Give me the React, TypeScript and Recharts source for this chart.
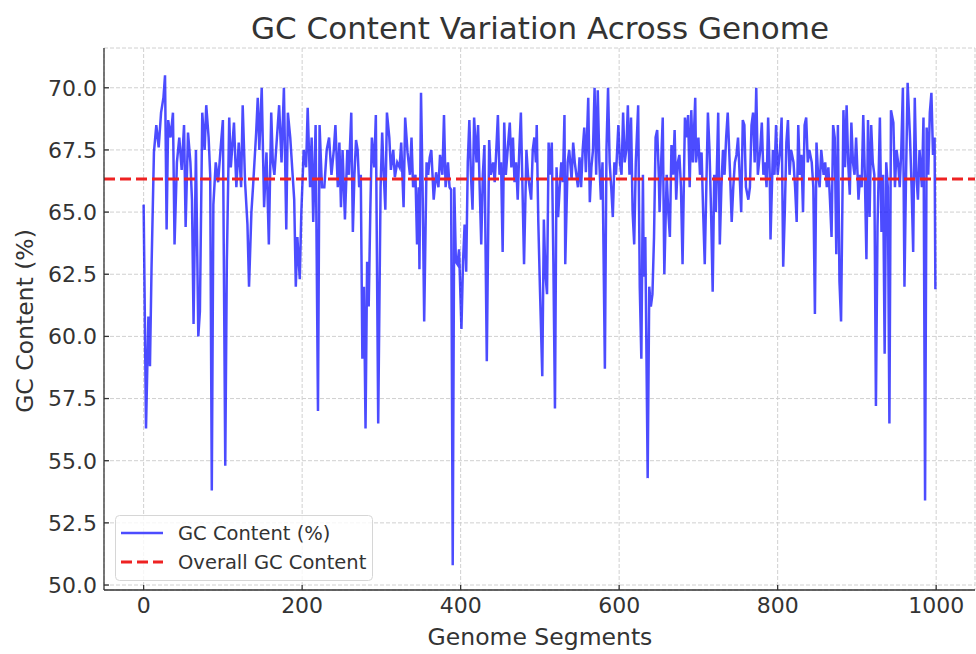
import {
  CartesianGrid,
  Label,
  Legend,
  Line,
  LineChart,
  ReferenceLine,
  XAxis,
  YAxis,
} from "recharts";

const FONT = "'DejaVu Sans', sans-serif";
const TEXT = "#333333";

const segments = [
  0, 1, 3, 6, 8, 10, 13, 16, 19, 22, 25, 27,
  29, 31, 34, 37, 39, 42, 45, 48, 51, 53, 56, 59,
  61, 63, 66, 69, 71, 74, 77, 79, 82, 84, 86, 88,
  91, 94, 97, 100, 103, 105, 108, 110, 114, 117, 120,
  123, 125, 128, 131, 133, 136, 138, 142, 144, 146, 149, 152,
  155, 158, 161, 163, 165, 168, 171, 174, 177, 180, 182, 185,
  188, 190, 192, 194, 197, 199, 202, 205, 207, 210, 212, 214,
  217, 220, 222, 225, 228, 231, 234, 237, 240, 242, 245,
  247, 249, 251, 254, 257, 259, 262, 264, 266, 268, 270, 272,
  274, 276, 278, 280, 282, 284, 286, 288, 291, 293, 296, 299,
  301, 303, 305, 307, 310, 312, 315, 317, 320, 323, 325, 328,
  330, 333, 336, 338, 340, 343, 345, 347, 348, 350, 352, 354,
  357, 359, 361, 363, 366, 369, 372,
  374, 377, 379, 381, 384, 386, 388, 390, 392, 394, 396, 398,
  401, 403, 405, 407, 409, 411, 413, 415, 417, 420, 422, 424,
  426, 428, 430, 433, 436, 438, 441, 443, 445, 447, 449, 451,
  453, 455, 457, 460, 462, 464, 466, 468, 470, 472, 474, 476,
  478, 480, 483, 485, 487, 489, 491, 493, 495,
  496, 498, 500, 503, 505, 507, 509, 511, 513, 515, 517, 519,
  521, 523, 525, 527, 529, 531, 532, 535, 537, 540, 542, 544,
  546, 548, 550, 552, 554, 556, 558, 561, 563, 565, 567, 569,
  571, 573, 575, 577, 579, 582, 584, 586, 588, 590, 592, 594,
  596, 599, 601, 603, 605, 607, 609, 611, 613, 615, 617, 619,
  621, 623, 624,
  626, 628, 630, 631, 633, 636, 638, 640, 642, 644, 646, 648,
  650, 651, 653, 655, 657, 660, 662, 664, 666, 668, 670, 672,
  674, 676, 678, 680, 683, 685, 687, 689, 691, 693, 696, 697,
  700, 702, 704, 706, 708, 710, 712, 714, 716, 718, 720, 722,
  725, 727, 729, 731, 733, 735, 737, 740, 742, 744, 746, 748,
  750, 752, 754, 756, 758, 760, 763, 765, 767, 769, 771, 773,
  775, 778, 780, 782, 784, 786, 788, 790, 791, 794, 796, 798,
  800, 803, 805, 807, 809, 811, 813, 815, 817, 820, 822, 824,
  826, 828, 830, 832, 834, 836, 838, 840, 843, 845, 847, 849,
  851, 853, 855, 858, 860, 862, 864, 866, 868, 870, 872, 874,
  876, 878,
  880, 883, 885, 887, 889, 891, 893, 895, 897, 899, 902, 904,
  906, 908, 910, 912, 914, 916, 918, 920, 922, 924, 926, 929,
  931, 933, 935, 937, 939, 941, 943, 946, 948, 950, 952, 954,
  956, 958, 960, 962, 964, 967, 969, 971, 973, 975, 977, 979,
  982, 984, 986, 988, 990, 992, 994, 996, 998, 999,
];

const gcContent = [
  65.3, 62.4, 56.3, 60.8, 58.8, 62.8, 67.4, 68.5, 67.6, 69.0, 69.6, 70.5,
  64.3, 68.7, 68.0, 69.0, 63.7, 67.0, 68.0, 66.7, 68.5, 64.4, 68.2, 67.0,
  65.5, 60.5, 67.5, 60.0, 61.0, 69.0, 67.5, 69.3, 68.0, 66.5, 53.8, 65.3,
  67.0, 66.2, 67.5, 68.7, 54.8, 63.0, 68.8, 66.8, 68.6, 66.0, 67.8,
  66.0, 69.3, 66.2, 64.5, 62.0, 65.0, 66.0, 68.2, 69.6, 67.5, 70.0, 65.2,
  67.4, 63.7, 69.0, 67.0, 66.5, 67.9, 69.3, 67.0, 70.0, 64.3, 69.0, 68.0,
  66.5, 65.5, 62.0, 64.0, 62.3, 65.0, 67.5, 66.8, 69.2, 66.0, 68.0, 64.6,
  68.5, 57.0, 68.5, 66.0, 66.0, 67.5, 68.0, 66.5, 67.5, 68.5, 66.0,
  67.8, 65.2, 67.5, 64.7, 67.5, 66.5, 69.0, 64.2, 66.5, 67.9, 67.5, 66.0,
  66.5, 59.1, 62.0, 56.3, 63.0, 61.2, 65.0, 68.0, 66.8, 68.9, 56.5, 66.0,
  68.2, 66.5, 65.1, 69.0, 68.0, 66.7, 67.5, 66.4, 67.0, 66.8, 67.8, 65.2,
  68.8, 67.4, 66.5, 68.0, 66.0, 66.5, 63.7, 66.0, 62.7, 69.8, 66.0, 60.6,
  67.0, 66.5, 67.2, 67.5, 65.5, 66.6, 66.0,
  67.3, 66.5, 68.9, 66.0, 67.0, 66.0, 65.9, 50.8, 66.0, 63.0, 62.9, 63.5,
  60.3, 63.0, 64.5, 62.6, 67.0, 68.7, 66.5, 65.1, 68.8, 67.0, 68.5, 66.0,
  63.7, 66.5, 67.7, 59.0, 67.9, 66.5, 67.0, 66.2, 67.5, 68.9, 66.5, 67.0,
  63.4, 68.6, 66.5, 67.8, 68.6, 66.8, 68.0, 66.2, 67.0, 65.5, 67.5, 69.0,
  66.0, 62.9, 67.5, 66.5, 66.0, 65.5, 67.5, 68.0, 67.0,
  68.5, 64.6, 62.0, 58.4, 64.7, 62.5, 61.7, 67.8, 66.5, 67.8, 63.0, 57.1,
  66.8, 64.8, 66.0, 67.0, 66.2, 68.9, 62.9, 67.0, 67.5, 66.3, 67.8, 67.0,
  66.5, 66.0, 67.2, 66.0, 67.5, 68.4, 66.6, 69.6, 65.4, 66.8, 67.5, 70.0,
  66.5, 69.9, 67.0, 65.5, 67.0, 58.7, 67.5, 70.0, 67.0, 66.0, 64.8, 67.0,
  66.5, 68.5, 67.0, 66.5, 69.0, 67.0, 67.5, 69.3, 66.5, 68.8, 65.0, 63.7,
  67.0, 68.5, 69.3,
  62.0, 59.1, 66.5, 62.4, 64.0, 54.3, 62.0, 61.2, 61.7, 64.0, 68.0, 68.3,
  66.5, 65.0, 67.0, 68.8, 62.5, 66.5, 65.0, 64.0, 67.7, 66.5, 68.3, 65.5,
  67.0, 67.3, 66.0, 62.9, 68.8, 68.0, 68.9, 66.0, 69.1, 67.0, 69.6, 67.0,
  68.0, 66.5, 67.4, 65.0, 62.9, 66.0, 69.0, 67.5, 65.0, 61.8, 66.5, 65.0,
  69.0, 63.7, 66.0, 67.5, 66.5, 68.0, 69.0, 66.5, 64.6, 66.0, 67.0, 67.3,
  68.0, 66.5, 65.0, 68.7, 68.5, 66.0, 65.5, 66.0, 68.5, 69.0, 67.0, 70.0,
  66.5, 67.5, 68.6, 66.5, 67.0, 66.0, 68.8, 66.5, 63.9, 67.5, 66.5, 68.5,
  66.5, 67.5, 68.8, 62.8, 65.0, 67.8, 68.7, 66.5, 67.5, 67.0, 66.0, 64.6,
  68.5, 66.5, 67.3, 65.0, 68.5, 68.8, 67.0, 67.5, 67.0, 66.0, 60.9, 67.8,
  66.5, 66.0, 67.5, 66.5, 67.0, 66.0, 66.8, 65.5, 64.0, 68.5, 68.0, 63.3,
  68.5, 62.2,
  60.6, 69.1, 66.8, 69.3, 67.0, 65.7, 68.6, 67.0, 66.5, 68.0, 65.5, 66.5,
  66.0, 68.9, 66.5, 63.1, 68.7, 64.8, 68.5, 67.0, 66.5, 57.2, 64.4, 68.8,
  64.2, 66.5, 59.3, 67.0, 66.0, 56.5, 69.1, 68.6, 66.0, 67.5, 67.0, 66.0,
  67.5, 70.0, 62.0, 66.5, 70.2, 68.0, 66.0, 63.4, 69.6, 66.5, 65.5, 67.5,
  66.0, 68.8, 53.4, 68.4, 66.5, 69.0, 69.8, 67.3, 68.0, 61.9,
];

const overallGc = 66.33;
const xTicks = [0, 200, 400, 600, 800, 1000];
const yTicks = [50, 52.5, 55, 57.5, 60, 62.5, 65, 67.5, 70];

const data = segments.map((segment, i) => ({ segment, gc: gcContent[i] }));

function GcLegend() {
  return (
    <svg width={258} height={66}>
      <rect
        x={0.5}
        y={0.5}
        width={257}
        height={65}
        rx={4}
        fill="rgba(255,255,255,0.8)"
        stroke="#d6d6d6"
      />
      <line x1={6} x2={48} y1={18} y2={18} stroke="#0000ff" strokeOpacity={0.7} strokeWidth={2.5} />
      <line x1={6} x2={48} y1={47} y2={47} stroke="#ee2222" strokeWidth={3} strokeDasharray="11 5" />
      <text x={63} y={18} dominantBaseline="central" fontFamily={FONT} fontSize={19.5} fill={TEXT}>
        GC Content (%)
      </text>
      <text x={63} y={47} dominantBaseline="central" fontFamily={FONT} fontSize={19.5} fill={TEXT}>
        Overall GC Content
      </text>
    </svg>
  );
}

export default function App() {
  return (
    <div style={{ position: "absolute", left: 0, top: 0, width: 976, height: 654, background: "#fff" }}>
      <div
        style={{
          position: "absolute",
          left: 0,
          top: 10,
          width: 1080,
          textAlign: "center",
          fontFamily: FONT,
          fontSize: 31,
          lineHeight: "36px",
          color: TEXT,
          zIndex: 2,
        }}
      >
        GC Content Variation Across Genome
      </div>
      <LineChart
        width={976}
        height={654}
        data={data}
        margin={{ top: 48, right: 1, bottom: 0, left: 0 }}
      >
        <CartesianGrid stroke="#d0d0d0" strokeDasharray="4 2" />
        <XAxis
          dataKey="segment"
          type="number"
          domain={[-50, 1049]}
          ticks={xTicks}
          allowDataOverflow
          height={64}
          stroke="#333"
          strokeWidth={1.3}
          tickSize={-5}
          tickMargin={12}
          tick={{ fontSize: 22, fill: TEXT, fontFamily: FONT }}
        >
          <Label
            content={() => (
              <text x={540} y={637} textAnchor="middle" dominantBaseline="central" fontFamily={FONT} fontSize={23.5} fill={TEXT}>
                Genome Segments
              </text>
            )}
          />
        </XAxis>
        <YAxis
          type="number"
          domain={[49.8, 71.6]}
          ticks={yTicks}
          allowDataOverflow
          width={104}
          stroke="#333"
          strokeWidth={1.3}
          tickSize={-5}
          tickMargin={12}
          tickFormatter={(v: number) => v.toFixed(1)}
          tick={{ fontSize: 22, fill: TEXT, fontFamily: FONT }}
        >
          <Label
            content={() => (
              <text
                x={25}
                y={321}
                transform="rotate(-90 25 321)"
                textAnchor="middle"
                dominantBaseline="central"
                fontFamily={FONT}
                fontSize={23.5}
                fill={TEXT}
              >
                GC Content (%)
              </text>
            )}
          />
        </YAxis>
        <Line
          type="linear"
          dataKey="gc"
          name="GC Content (%)"
          stroke="#0000ff"
          strokeOpacity={0.7}
          strokeWidth={2.5}
          dot={false}
          activeDot={false}
          isAnimationActive={false}
        />
        <ReferenceLine
          y={overallGc}
          stroke="#ee2222"
          strokeWidth={3}
          strokeDasharray="11 5"
        />
        <Legend
          layout="vertical"
          align="center"
          verticalAlign="middle"
          content={() => <GcLegend />}
          wrapperStyle={{ position: "absolute", left: 115, top: 515, width: 258, height: 66 }}
        />
      </LineChart>
    </div>
  );
}
